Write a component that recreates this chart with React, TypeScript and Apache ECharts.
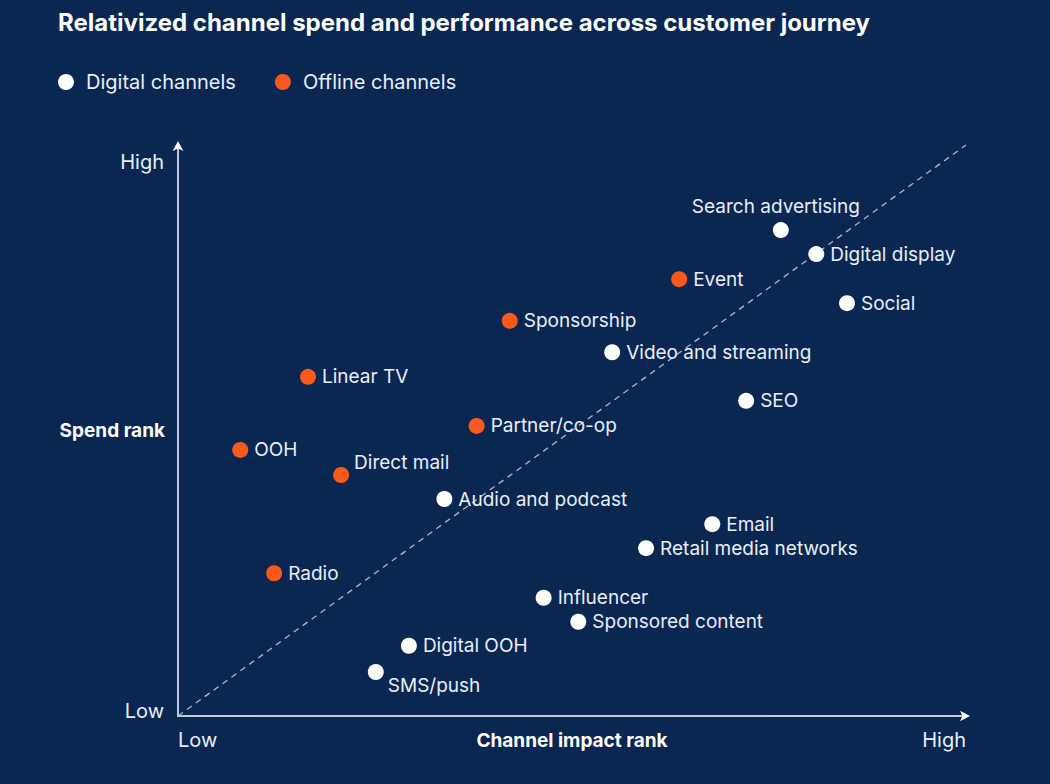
import React, { useEffect, useRef } from "react";
import * as echarts from "echarts";

const titleText = "Relativized channel spend and performance across customer journey";
const seriesNames = ["Digital channels", "Offline channels"];
const xAxisName = "Channel impact rank";
const yAxisName = "Spend rank";
const tickLabels = ["Low", "High"];

const digitalNames = [
  "Search advertising",
  "Digital display",
  "Social",
  "Video and streaming",
  "SEO",
  "Audio and podcast",
  "Email",
  "Retail media networks",
  "Influencer",
  "Sponsored content",
  "Digital OOH",
  "SMS/push",
];
const digitalX = [76.5, 81.0, 84.9, 55.1, 72.1, 33.8, 67.8, 59.4, 46.4, 50.8, 29.3, 25.1];
const digitalY = [85.1, 80.9, 72.3, 63.7, 55.2, 38.0, 33.6, 29.4, 20.7, 16.5, 12.3, 7.7];

const offlineNames = ["Event", "Sponsorship", "Linear TV", "Partner/co-op", "OOH", "Direct mail", "Radio"];
const offlineX = [63.6, 42.1, 16.5, 37.9, 7.9, 20.7, 12.2];
const offlineY = [76.5, 69.2, 59.4, 50.8, 46.6, 42.2, 25.0];

const diagonal = [
  [0, 0],
  [100, 100],
];

const BG = "#0a2751";
const WHITE = "#ffffff";
const ORANGE = "#fb5a1c";
const TEXT = "#e8eef8";
const DASH = "#a9b9d6";
const FONT = "Inter, 'Noto Sans', sans-serif";

const labelPlacement: Record<string, { position: string; offset: number[] }> = {
  "Search advertising": { position: "top", offset: [-5, 0] },
  "SMS/push": { position: "right", offset: [-2, 13] },
  "Direct mail": { position: "right", offset: [-1, -13] },
};

function buildData(names: string[], xs: number[], ys: number[]) {
  return names.map((n, i) => {
    const p = labelPlacement[n];
    const item: any = { name: n, value: [xs[i], ys[i]] };
    if (p) item.label = { position: p.position, offset: p.offset };
    return item;
  });
}

export default function App() {
  const ref = useRef<HTMLDivElement>(null);
  useEffect(() => {
    document.body.style.margin = "0";
    const chart = echarts.init(ref.current!, null, { renderer: "svg" });
    const pointLabel = {
      show: true,
      position: "right",
      distance: 6,
      color: TEXT,
      fontSize: 19,
      fontFamily: FONT,
      formatter: (p: any) => p.name,
    };
    const axisLine = {
      show: true,
      symbol: ["none", "arrow"],
      symbolSize: [8, 10],
      symbolOffset: [0, 4],
      lineStyle: { color: WHITE, width: 1.5 },
    };
    chart.setOption({
      animation: false,
      backgroundColor: BG,
      title: {
        text: titleText,
        left: 58,
        top: 10,
        padding: 0,
        textStyle: { color: WHITE, fontSize: 24, fontWeight: "bold", fontFamily: FONT },
      },
      legend: {
        left: 58,
        top: 72,
        itemWidth: 30,
        itemHeight: 16,
        itemGap: 39,
        padding: 0,
        icon: "circle",
        data: seriesNames,
        textStyle: { color: TEXT, fontSize: 20, fontFamily: FONT },
      },
      grid: { left: 178, right: 84, top: 145, bottom: 68 },
      xAxis: {
        type: "value",
        min: 0,
        max: 100,
        interval: 100,
        name: xAxisName,
        nameLocation: "middle",
        nameGap: 15,
        nameMoveOverlap: false,
        nameTextStyle: { color: WHITE, fontSize: 19, fontWeight: "bold", fontFamily: FONT },
        splitLine: { show: false },
        axisTick: { show: false },
        axisLine,
        axisLabel: {
          color: TEXT,
          fontSize: 20,
          fontFamily: FONT,
          margin: 14,
          alignMinLabel: "left",
          alignMaxLabel: "right",
          formatter: (v: number) => (v === 0 ? tickLabels[0] : tickLabels[1]),
        },
      },
      yAxis: {
        type: "value",
        min: 0,
        max: 100,
        interval: 100,
        name: yAxisName,
        nameLocation: "middle",
        nameRotate: 0,
        nameGap: 13,
        nameMoveOverlap: false,
        nameTextStyle: { color: WHITE, fontSize: 19, fontWeight: "bold", fontFamily: FONT, align: "right" },
        splitLine: { show: false },
        axisTick: { show: false },
        axisLine,
        axisLabel: {
          color: TEXT,
          fontSize: 20,
          fontFamily: FONT,
          margin: 14,
          verticalAlign: "middle",
          formatter: (v: number) => (v === 0 ? "{lo|" + tickLabels[0] + "}" : "{hi|" + tickLabels[1] + "}"),
          rich: {
            lo: { color: TEXT, fontSize: 20, fontFamily: FONT, padding: [0, 0, 10, 0] },
            hi: { color: TEXT, fontSize: 20, fontFamily: FONT, padding: [34, 0, 0, 0] },
          },
        },
      },
      series: [
        {
          type: "line",
          data: diagonal,
          symbol: "none",
          silent: true,
          lineStyle: { color: DASH, width: 1.3, type: [6, 5] },
          z: 1,
        },
        {
          name: seriesNames[0],
          type: "scatter",
          symbolSize: 16,
          itemStyle: { color: WHITE, opacity: 1 },
          label: pointLabel,
          data: buildData(digitalNames, digitalX, digitalY),
          z: 3,
        },
        {
          name: seriesNames[1],
          type: "scatter",
          symbolSize: 16,
          itemStyle: { color: ORANGE, opacity: 1 },
          label: pointLabel,
          data: buildData(offlineNames, offlineX, offlineY),
          z: 3,
        },
      ],
    });
    return () => chart.dispose();
  }, []);
  return <div ref={ref} style={{ position: "absolute", left: 0, top: 0, width: 1050, height: 784 }} />;
}
